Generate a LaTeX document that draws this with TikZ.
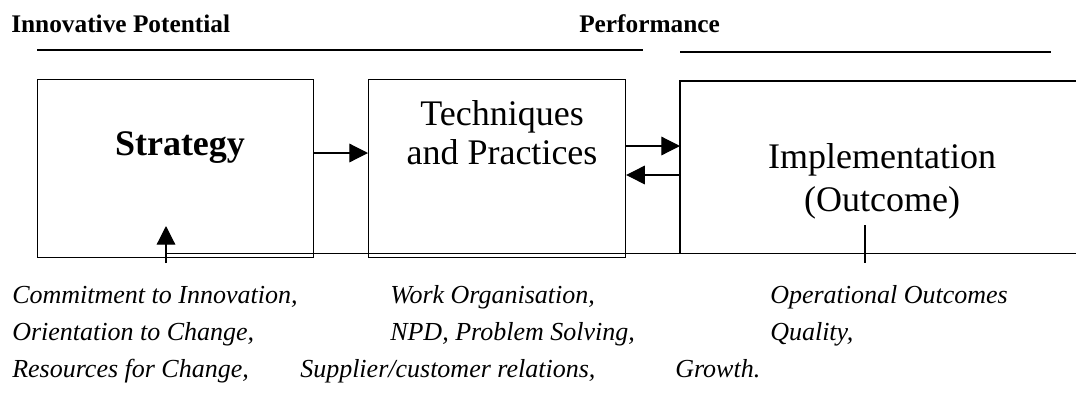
\documentclass[tikz,border=0pt]{standalone}
\usepackage{fontspec}
\setmainfont{Liberation Serif}
\usetikzlibrary{arrows.meta}
\tikzset{
    box/.style={draw, line width=.9pt, inner sep=0pt, anchor=north west},
    head/.style={font=\fontsize{19}{23}\selectfont\bfseries, anchor=base west,
    	inner sep=0pt},
    big/.style={font=\fontsize{27}{30}\selectfont, anchor=base, inner sep=0pt},
    note/.style={font=\fontsize{19.5}{23}\selectfont\itshape, anchor=base west,
    	inner sep=0pt}
}
\tikzset{
    rule/.style={line width=.9pt},
    arr/.style={line width=.9pt, -{Triangle[length=14pt,width=14pt]}}
}

\begin{document}
\begin{tikzpicture}[x=.75pt, y=-.75pt]
  \useasboundingbox (0,0) rectangle (1076,401);

  \node[head] (potential) at (11,32) {Innovative Potential};
  \node[head] (performance) at (579,32) {Performance};
  \coordinate (p0) at (37,50);  \coordinate (p1) at (643,50);
  \coordinate (q0) at (680,52); \coordinate (q1) at (1051,52);
  \draw[rule] (p0) -- (p1);
  \draw[rule] (q0) -- (q1);

  \node[box, minimum width=207pt, minimum height=133.5pt] (strategy) at (37,79) {};
  \node[box, minimum width=192.75pt, minimum height=133.5pt] (techniques) at (368,79) {};
  \node[inner sep=0pt, anchor=north west, minimum width=297pt,
  	minimum height=129pt] (impl) at (680,81) {};
  \draw[rule] (impl.north east) -| (impl.south west);

  \node[big, font=\fontsize{27}{30}\selectfont\bfseries] (strat) at (180,155) {Strategy};
  \node[big] (tech1) at (502,125) {Techniques};
  \node[big] (tech2) at (502,164) {and Practices};
  \node[big] (impl1) at (882,168) {Implementation};
  \node[big] (impl2) at (882,211) {(Outcome)};

  \coordinate (row0) at (0,153);
  \coordinate (row1) at (0,146);
  \coordinate (row2) at (0,175);
  \draw[arr] (strategy.east |- row0) -- (techniques.west |- row0);
  \draw[arr] (techniques.east |- row1) -- (impl.west |- row1);
  \draw[arr] (impl.west |- row2) -- (techniques.east |- row2);

  \coordinate (foot) at (166,263);
  \coordinate (tip) at (166,226);
  \draw[arr] (foot) -- (tip);
  \draw[rule] (foot |- impl.south) -- (impl.south east);
  \coordinate (tick0) at (865,225);
  \coordinate (tick1) at (865,263);
  \draw[rule] (tick0) -- (tick1);

  \node[note] (commit) at (12,303) {Commitment to Innovation,};
  \node[note] (orient) at (12,340) {Orientation to Change,};
  \node[note] (resour) at (12,377) {Resources for Change,};
  \node[note] (work) at (390,303) {Work Organisation,};
  \node[note] (npd) at (390,340) {NPD, Problem Solving,};
  \node[note] (supply) at (300,377) {Supplier/customer relations,};
  \node[note] (oper) at (770,303) {Operational Outcomes};
  \node[note] (quality) at (770,340) {Quality,};
  \node[note] (growth) at (675,377) {Growth.};
\end{tikzpicture}
\end{document}
